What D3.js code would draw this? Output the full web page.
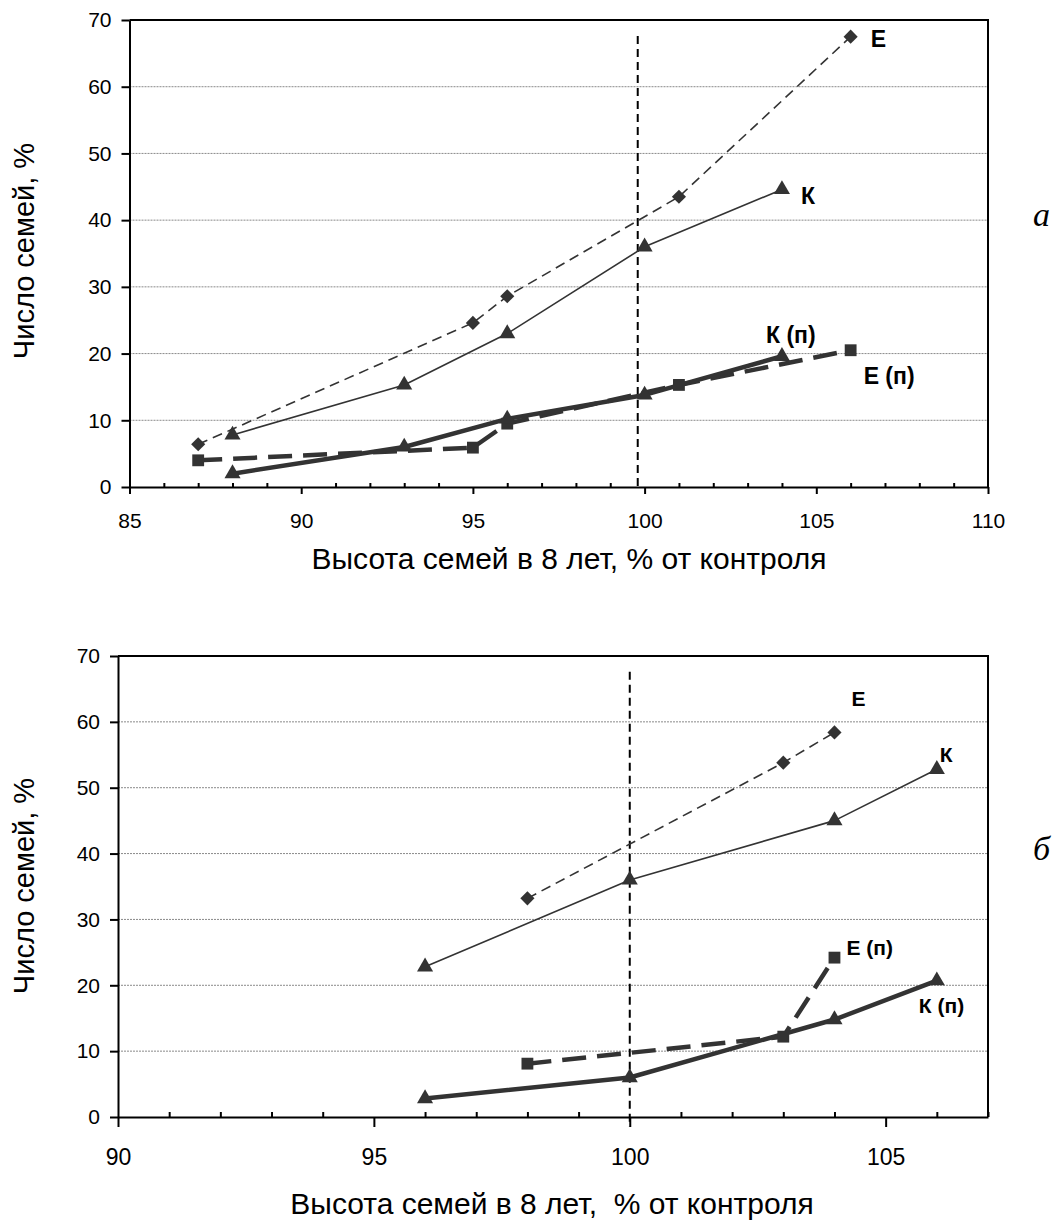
<!DOCTYPE html>
<html>
<head>
<meta charset="utf-8">
<script src="https://cdn.jsdelivr.net/npm/d3@7"></script>
<style>
  html, body { margin: 0; padding: 0; background: #fff; }
  svg { display: block; }
</style>
</head>
<body>
<svg id="fig" width="1059" height="1222"></svg>
<script>
// Share of families (%) by family height at age 8 (% of control)

// Panel а
const aTicksX = [85, 90, 95, 100, 105, 110];
const aE  = [[87, 6.4], [95, 24.6], [96, 28.6], [101, 43.5], [106, 67.5]];
const aK  = [[88, 7.8], [93, 15.3], [96, 23.0], [100, 36.0], [104, 44.6]];
const aKp = [[88, 2.0], [93, 6.0], [96, 10.2], [100, 13.8], [104, 19.6]];
const aEp = [[87, 4.0], [95, 5.9], [96, 9.5], [101, 15.3], [106, 20.5]];
const aControl = 99.8;

// Panel б
const bTicksX = [90, 95, 100, 105];
const bE  = [[98, 33.2], [103, 53.8], [104, 58.4]];
const bK  = [[96, 22.8], [100, 36.0], [104, 45.0], [106, 52.8]];
const bKp = [[96, 2.8], [100, 6.0], [104, 14.8], [106, 20.7]];
const bEp = [[98, 8.1], [103, 12.2], [104, 24.2]];
const bControl = 100;

const ticksY = [0, 10, 20, 30, 40, 50, 60, 70];
const seriesNames = ["Е", "К", "К (п)", "Е (п)"];
const yTitle = "Число семей, %";
const aXTitle = "Высота семей в 8 лет, % от контроля";
const bXTitle = "Высота семей в 8 лет,\u00A0 % от контроля";
const panelLetters = ["а", "б"];

const svg = d3.select("#fig");
const INK = "#333";
const FONT = "'Liberation Sans', Arial, sans-serif";

// line and marker style for each series
const styles = {
  "Е":     { width: 1.6, dash: "10,6",  symbol: "diamond" },
  "К":     { width: 1.6, dash: null,    symbol: "triangle" },
  "К (п)": { width: 4.5, dash: null,    symbol: "triangle" },
  "Е (п)": { width: 4.5, dash: "24,11", symbol: "square" }
};

function markerPath(kind) {
  if (kind === "diamond") return d3.symbol(d3.symbolSquare, 100)();
  if (kind === "triangle") return d3.symbol(d3.symbolTriangle, 112)();
  return d3.symbol(d3.symbolSquare, 140)();
}

function drawPanel(cfg) {
  const x = d3.scaleLinear().domain(cfg.xDomain).range(cfg.xRange);
  const y = d3.scaleLinear().domain([0, 70]).range(cfg.yRange);
  const g = svg.append("g");
  const [x0, x1] = cfg.xRange;
  const [y0, y1] = cfg.yRange;

  // horizontal gridlines
  g.append("g").selectAll("line")
    .data(ticksY.filter(v => v > 0 && v < 70))
    .join("line")
    .attr("x1", x0).attr("x2", x1)
    .attr("y1", d => y(d)).attr("y2", d => y(d))
    .attr("stroke", "#8a8a8a").attr("stroke-width", 1)
    .attr("stroke-dasharray", "2,1");

  // frame: top and right edges
  g.append("path")
    .attr("d", `M${x0},${y1}H${x1}V${y0}`)
    .attr("fill", "none").attr("stroke", "#000").attr("stroke-width", 2);

  // control level (100 %)
  g.append("line")
    .attr("x1", x(cfg.control)).attr("x2", x(cfg.control))
    .attr("y1", y(67.6)).attr("y2", y(cfg.refBottom))
    .attr("stroke", "#000").attr("stroke-width", 2)
    .attr("stroke-dasharray", "8,5");

  // minor x ticks, pointing into the plot
  const minors = d3.range(cfg.xDomain[0], cfg.xDomain[1] + 0.001, 1)
    .filter(v => !cfg.ticksX.includes(v));
  const minorAxis = g.append("g")
    .attr("transform", `translate(0,${y0})`)
    .call(d3.axisTop(x).tickValues(minors).tickSize(cfg.minorLen).tickFormat(""));
  minorAxis.select(".domain").remove();
  minorAxis.selectAll("line").attr("stroke", "#000").attr("stroke-width", 2);

  // major x ticks and labels
  const xa = g.append("g")
    .attr("transform", `translate(0,${y0})`)
    .call(d3.axisBottom(x).tickValues(cfg.ticksX).tickSize(cfg.majorLen)
      .tickPadding(cfg.xPad).tickSizeOuter(0).tickFormat(d3.format("d")));
  xa.select(".domain").attr("stroke", "#000").attr("stroke-width", 2);
  xa.selectAll("line").attr("stroke", "#000").attr("stroke-width", 2);
  xa.selectAll("text").attr("font-family", FONT).attr("font-size", cfg.xFont).attr("fill", "#000");

  // y axis
  const ya = g.append("g")
    .attr("transform", `translate(${x0},0)`)
    .call(d3.axisLeft(y).tickValues(ticksY).tickSize(8).tickPadding(10).tickSizeOuter(0));
  ya.select(".domain").attr("stroke", "#000").attr("stroke-width", 2);
  ya.selectAll("line").attr("stroke", "#000").attr("stroke-width", 2);
  ya.selectAll("text").attr("font-family", FONT).attr("font-size", cfg.yFont).attr("fill", "#000");

  // series lines: thin first, then thick
  const line = d3.line().x(d => x(d[0])).y(d => y(d[1]));
  const order = ["Е", "К", "Е (п)", "К (п)"];
  order.forEach(name => {
    const st = styles[name];
    g.append("path")
      .datum(cfg.series[name])
      .attr("d", line)
      .attr("fill", "none")
      .attr("stroke", INK)
      .attr("stroke-width", st.width)
      .attr("stroke-dasharray", st.dash)
      .attr("stroke-linejoin", "round");
  });

  // markers
  order.forEach(name => {
    const st = styles[name];
    g.append("g").selectAll("path")
      .data(cfg.series[name])
      .join("path")
      .attr("d", markerPath(st.symbol))
      .attr("transform", d => `translate(${x(d[0])},${y(d[1])})` +
        (st.symbol === "diamond" ? " rotate(45)" : ""))
      .attr("fill", INK);
  });

  // series labels next to their last points
  seriesNames.forEach(name => {
    const pts = cfg.series[name];
    const last = pts[pts.length - 1];
    const off = cfg.labelOffsets[name];
    g.append("text")
      .attr("x", x(last[0]) + off[0])
      .attr("y", y(last[1]) + off[1])
      .attr("font-family", FONT)
      .attr("font-weight", "bold")
      .attr("font-size", cfg.labelFont)
      .attr("fill", "#000")
      .text(name);
  });

  // axis titles
  g.append("text")
    .attr("transform", `translate(${cfg.yTitleX},${cfg.yTitleY}) rotate(-90)`)
    .attr("text-anchor", "middle")
    .attr("font-family", FONT).attr("font-size", 29).attr("fill", "#000")
    .text(yTitle);
  g.append("text")
    .attr("x", cfg.xTitleX).attr("y", cfg.xTitleY)
    .attr("text-anchor", "middle")
    .attr("font-family", FONT).attr("font-size", 30).attr("fill", "#000")
    .text(cfg.xTitle);

  // panel letter
  g.append("text")
    .attr("x", 1033).attr("y", cfg.letterY)
    .attr("font-family", "'Liberation Serif', 'Times New Roman', serif")
    .attr("font-style", "italic").attr("font-size", 34).attr("fill", "#000")
    .text(cfg.letter);
}

drawPanel({
  xDomain: [85, 110], xRange: [129.5, 988], yRange: [487, 20],
  ticksX: aTicksX, control: aControl, refBottom: 0,
  series: { "Е": aE, "К": aK, "К (п)": aKp, "Е (п)": aEp },
  minorLen: 4, majorLen: 7, xPad: 19, xFont: 21, yFont: 21, labelFont: 23,
  labelOffsets: { "Е": [20, 10], "К": [19, 15], "К (п)": [-16, -13], "Е (п)": [13, 34] },
  yTitleX: 34, yTitleY: 251, xTitle: aXTitle, xTitleX: 569, xTitleY: 569,
  letter: panelLetters[0], letterY: 226
});

drawPanel({
  xDomain: [90, 107], xRange: [118, 988], yRange: [1117, 656],
  ticksX: bTicksX, control: bControl, refBottom: -1.5,
  series: { "Е": bE, "К": bK, "К (п)": bKp, "Е (п)": bEp },
  minorLen: 5, majorLen: 10, xPad: 22, xFont: 23, yFont: 21, labelFont: 21,
  labelOffsets: { "Е": [17, -26], "К": [3, -7], "К (п)": [-18, 32], "Е (п)": [12, -3] },
  yTitleX: 34, yTitleY: 886, xTitle: bXTitle, xTitleX: 552, xTitleY: 1214,
  letter: panelLetters[1], letterY: 860
});
</script>
</body>
</html>
